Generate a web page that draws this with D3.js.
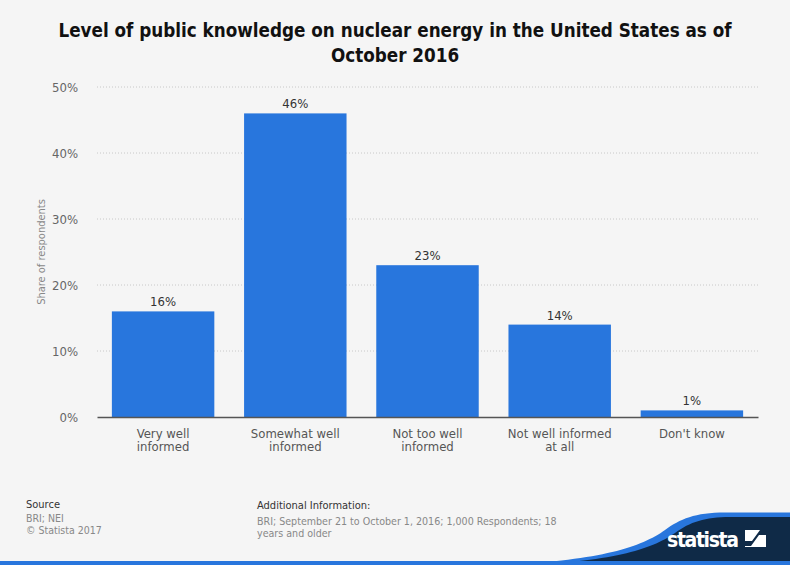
<!DOCTYPE html>
<html><head><meta charset="utf-8">
<script src="https://cdn.jsdelivr.net/npm/d3@7"></script>
<style>
html,body{margin:0;padding:0;background:#f5f5f5;}
svg{display:block;}
</style></head>
<body>
<svg id="chart" width="790" height="565"></svg>
<script>
const categories = [["Very well","informed"],["Somewhat well","informed"],["Not too well","informed"],["Not well informed","at all"],["Don't know"]];
const values = [16, 46, 23, 14, 1];
const yTicks = [0, 10, 20, 30, 40, 50];
const title = ["Level of public knowledge on nuclear energy in the United States as of","October 2016"];
const yTitle = "Share of respondents";

const svg = d3.select("#chart");
const W = 790, H = 565;
const margin = {left: 97, right: 32, top: 87, bottom: 148};
const font = "'DejaVu Sans Condensed','DejaVu Sans',sans-serif";

svg.append("rect").attr("width", W).attr("height", H).attr("fill", "#f5f5f5");

const x = d3.scaleBand().domain(d3.range(values.length)).range([margin.left, W - margin.right]).paddingInner(0.225).paddingOuter(0.1125);
const y = d3.scaleLinear().domain([0, 50]).range([H - margin.bottom, margin.top]);

// title
const t = svg.append("text").attr("text-anchor", "middle").attr("font-family", font)
  .attr("font-weight", "bold").attr("font-size", 18.7).attr("fill", "#111");
title.forEach((l, i) => t.append("tspan").attr("x", 395).attr("y", 37 + i * 25).text(l));

// grid
svg.append("g").selectAll("line").data(yTicks.filter(d => d > 0)).join("line")
  .attr("x1", margin.left).attr("x2", W - margin.right)
  .attr("y1", d => y(d)).attr("y2", d => y(d))
  .attr("stroke", "#c8c8c8").attr("stroke-width", 1).attr("stroke-dasharray", "1,2");

// y axis
const yAxis = svg.append("g").attr("transform", `translate(${margin.left - 16},0)`)
  .call(d3.axisLeft(y).tickValues(yTicks).tickFormat(d => d + "%").tickSize(0));
yAxis.select(".domain").remove();
yAxis.selectAll("text").attr("font-family", font).attr("font-size", 13).attr("fill", "#666").attr("dy", "0.35em");

svg.append("text").attr("transform", `translate(45,${(y(0)+y(50))/2}) rotate(-90)`)
  .attr("text-anchor", "middle").attr("font-family", font).attr("font-size", 11).attr("fill", "#888").text(yTitle);

// bars
svg.append("g").selectAll("rect").data(values).join("rect")
  .attr("x", (d, i) => x(i)).attr("width", x.bandwidth())
  .attr("y", d => y(d)).attr("height", d => y(0) - y(d))
  .attr("fill", "#2876dd");

// value labels
svg.append("g").selectAll("text").data(values).join("text")
  .attr("x", (d, i) => x(i) + x.bandwidth() / 2).attr("y", d => y(d) - 5)
  .attr("text-anchor", "middle").attr("font-family", font).attr("font-size", 13).attr("fill", "#333")
  .text(d => d + "%");

// x axis
const xAxis = svg.append("g").attr("transform", `translate(0,${y(0)})`)
  .call(d3.axisBottom(x).tickSize(0).tickFormat(""));
xAxis.select(".domain").attr("stroke", "#555").attr("stroke-width", 1.5);
xAxis.selectAll(".tick").each(function(d) {
  const g = d3.select(this);
  categories[d].forEach((l, i) => g.append("text").attr("text-anchor", "middle").attr("font-family", font)
    .attr("font-size", 13).attr("fill", "#555").attr("x", 0).attr("y", 21 + i * 13).text(l));
});

// footer
const f = svg.append("g").attr("font-family", font);
f.append("text").attr("x", 26).attr("y", 508).attr("font-size", 11).attr("fill", "#333").text("Source");
f.append("text").attr("x", 26).attr("y", 522).attr("font-size", 10.5).attr("fill", "#888").text("BRI; NEI");
f.append("text").attr("x", 26).attr("y", 534).attr("font-size", 10.5).attr("fill", "#888").text("© Statista 2017");
f.append("text").attr("x", 257).attr("y", 509).attr("font-size", 11).attr("fill", "#333").text("Additional Information:");
f.append("text").attr("x", 257).attr("y", 525).attr("font-size", 10.6).attr("fill", "#888").text("BRI; September 21 to October 1, 2016; 1,000 Respondents; 18");
f.append("text").attr("x", 257).attr("y", 537).attr("font-size", 10.6).attr("fill", "#888").text("years and older");

// logo swoosh
svg.append("path").attr("d", "M490,565 C595,562 640,548 665,530 C680,519 695,512.5 725,512.5 L790,512.5 L790,565 Z").attr("fill", "#2876dd");
svg.append("path").attr("d", "M515,565 C612,562 650,550 675,533 C690,522 705,517 730,517 L790,517 L790,565 Z").attr("fill", "#0f2a47");
svg.append("rect").attr("x", 0).attr("y", 561).attr("width", W).attr("height", 4).attr("fill", "#2876dd");
svg.append("text").attr("x", 667).attr("y", 547).attr("font-family", font)
  .attr("font-weight", "bold").attr("font-size", 21).attr("fill", "#fff").attr("textLength", 72).text("statista");
svg.append("rect").attr("x", 745).attr("y", 530).attr("width", 21).attr("height", 17).attr("fill", "#fff");
svg.append("path").attr("d", "M745,541 L752,541 L760,530 L766,530 L766,535 L759,535 L751,546 L745,546 Z").attr("fill", "#0f2a47");
</script>
</body></html>
